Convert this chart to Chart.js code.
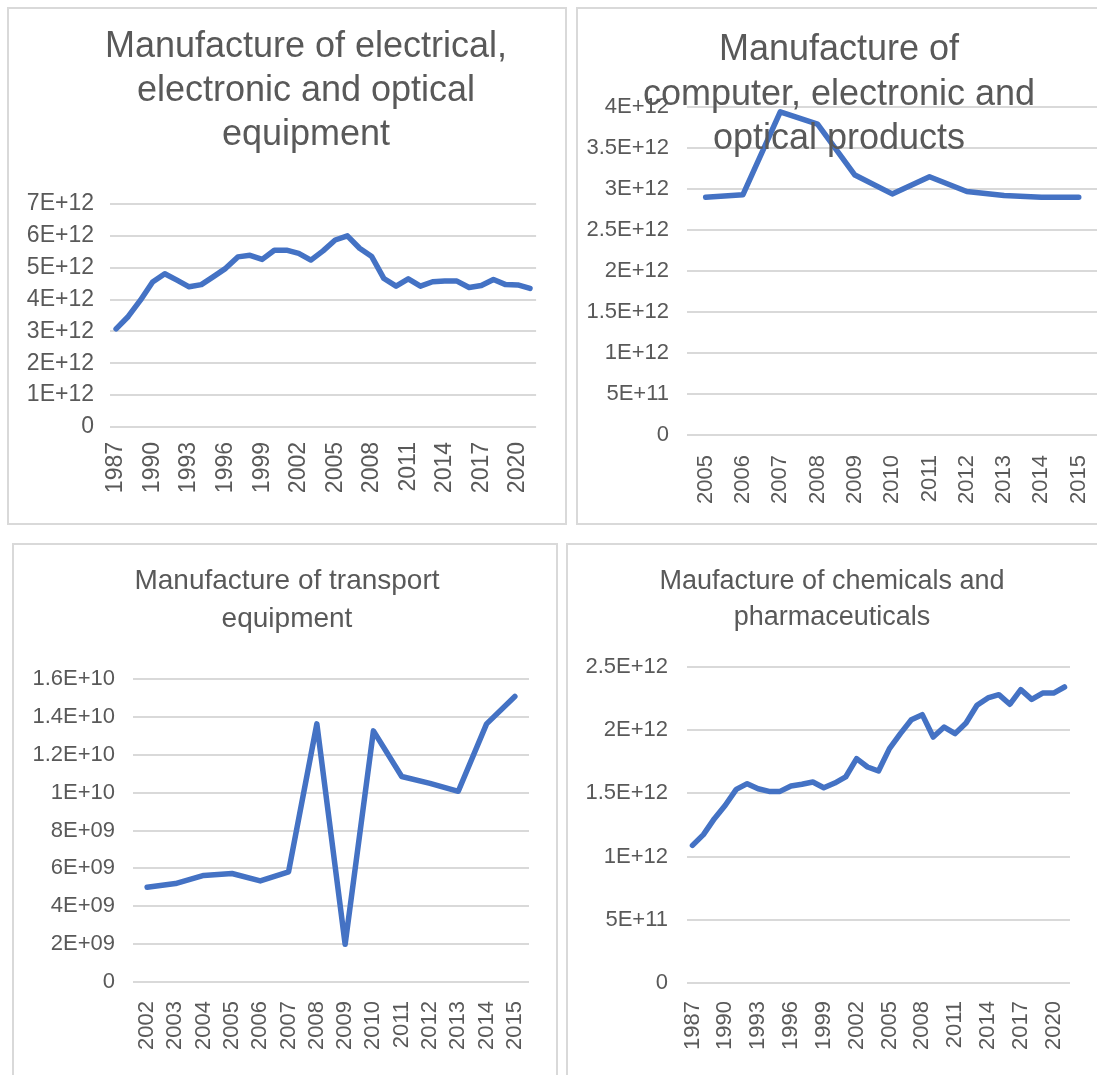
<!DOCTYPE html>
<html>
<head>
<meta charset="utf-8">
<script src="https://cdn.jsdelivr.net/npm/chart.js@4.4.1/dist/chart.umd.min.js"></script>
<style>
  body { margin: 0; background: #fff; overflow: hidden; width: 1097px; height: 1075px; position: relative; }
  .panel { position: absolute; border: 2px solid #d9d9d9; background: #fff; }
  .panel canvas { display: block; }
</style>
</head>
<body>
<div class="panel" style="left:7px;top:7px"><canvas id="c1" width="556" height="514"></canvas></div>
<div class="panel" style="left:576px;top:7px"><canvas id="c2" width="540" height="514"></canvas></div>
<div class="panel" style="left:12px;top:543px"><canvas id="c3" width="542" height="540"></canvas></div>
<div class="panel" style="left:566px;top:543px"><canvas id="c4" width="540" height="540"></canvas></div>
<script>
// categories
const yearsLong = ["1987","1988","1989","1990","1991","1992","1993","1994","1995","1996","1997","1998",
  "1999","2000","2001","2002","2003","2004","2005","2006","2007","2008","2009","2010","2011","2012",
  "2013","2014","2015","2016","2017","2018","2019","2020","2021"];
const yearsComputer = ["2005","2006","2007","2008","2009","2010","2011","2012","2013","2014","2015"];
const yearsTransport = ["2002","2003","2004","2005","2006","2007","2008","2009","2010","2011","2012","2013","2014","2015"];

// series values
const electricalValues = [3.08e12,3.47e12,3.98e12,4.55e12,4.81e12,4.61e12,4.40e12,4.47e12,4.72e12,4.98e12,
  5.34e12,5.39e12,5.26e12,5.55e12,5.55e12,5.45e12,5.24e12,5.53e12,5.87e12,6.00e12,5.61e12,5.35e12,
  4.66e12,4.42e12,4.65e12,4.42e12,4.56e12,4.58e12,4.58e12,4.38e12,4.44e12,4.63e12,4.47e12,4.46e12,4.35e12];
const computerValues = [2.90e12,2.93e12,3.94e12,3.79e12,3.17e12,2.94e12,3.15e12,2.97e12,2.92e12,2.90e12,2.90e12];
const transportValues = [5.00e9,5.20e9,5.63e9,5.73e9,5.34e9,5.82e9,13.63e9,1.99e9,13.26e9,10.85e9,10.49e9,10.07e9,13.63e9,15.08e9];
const chemicalValues = [1.089e12,1.174e12,1.300e12,1.406e12,1.532e12,1.577e12,1.537e12,1.516e12,1.516e12,1.558e12,
  1.572e12,1.590e12,1.545e12,1.582e12,1.630e12,1.775e12,1.709e12,1.677e12,1.854e12,1.973e12,2.083e12,2.123e12,
  1.946e12,2.025e12,1.973e12,2.057e12,2.197e12,2.255e12,2.281e12,2.205e12,2.321e12,2.244e12,2.294e12,2.294e12,2.342e12];

// titles
const titleElectrical = ["Manufacture of electrical,", "electronic and optical", "equipment"];
const titleComputer = ["Manufacture of", "computer, electronic and", "optical products"];
const titleTransport = ["Manufacture of transport", "equipment"];
const titleChemical = ["Maufacture of chemicals and", "pharmaceuticals"];

const FONT = '"Liberation Sans", Arial, sans-serif';
const GREY = "#595959";

// excel style 7E+12 / 5E+11 / 8E+09
function sci(v) {
  if (v === 0) return "0";
  const e = Math.floor(Math.log10(Math.abs(v)) + 1e-9);
  const m = +(v / Math.pow(10, e)).toPrecision(3);
  return m + "E+" + String(e).padStart(2, "0");
}

// title drawn on top (the computer chart has it overlapping the plot)
const panelTitle = {
  id: "panelTitle",
  afterDraw(chart, args, opts) {
    if (!opts.lines) return;
    const ctx = chart.ctx;
    ctx.save();
    ctx.fillStyle = GREY;
    ctx.font = opts.size + "px " + FONT;
    ctx.textAlign = "center";
    ctx.textBaseline = "alphabetic";
    opts.lines.forEach((t, i) => ctx.fillText(t, opts.x, opts.baselines[i]));
    ctx.restore();
  }
};

function makeChart(id, labels, values, o) {
  return new Chart(document.getElementById(id), {
    type: "line",
    data: {
      labels: labels,
      datasets: [{
        data: values,
        borderColor: "#4472C4",
        borderWidth: 5.5,
        pointRadius: 0,
        tension: 0,
        borderCapStyle: "round",
        borderJoinStyle: "round",
      }],
    },
    options: {
      responsive: false,
      animation: false,
      layout: { padding: { left: 0, top: o.top, right: o.right, bottom: 0 } },
      plugins: {
        legend: { display: false },
        tooltip: { enabled: false },
        title: { display: false },
        panelTitle: o.title,
      },
      scales: {
        x: {
          offset: true,
          grid: { display: false },
          border: { display: false },
          ticks: {
            autoSkip: false,
            minRotation: 90,
            maxRotation: 90,
            padding: o.xPad,
            color: GREY,
            font: { family: FONT, size: o.tick },
            callback: function (v, i) {
              return i % o.every === 0 ? this.getLabelForValue(v) : "";
            },
          },
          afterFit: (s) => { s.height = o.xHeight; },
        },
        y: {
          min: 0,
          max: o.max,
          grid: { color: "#d9d9d9", lineWidth: 2, drawTicks: false },
          border: { display: false },
          ticks: {
            stepSize: o.step,
            padding: o.yPad,
            color: GREY,
            font: { family: FONT, size: o.tick },
            callback: (v) => sci(v),
          },
          afterFit: (s) => { s.width = o.left; },
        },
      },
    },
    plugins: [panelTitle],
  });
}

makeChart("c1", yearsLong, electricalValues, {
  max: 7e12, step: 1e12, every: 3, tick: 23,
  left: 101, right: 28, top: 195, xHeight: 96, xPad: 7, yPad: 16,
  title: { lines: titleElectrical, size: 36, x: 297, baselines: [48, 92, 136] },
});

makeChart("c2", yearsComputer, computerValues, {
  max: 4e12, step: 5e11, every: 1, tick: 22,
  left: 109, right: 19, top: 98, xHeight: 88, xPad: 12, yPad: 18,
  title: { lines: titleComputer, size: 36, x: 261, baselines: [51, 96, 140] },
});

makeChart("c3", yearsTransport, transportValues, {
  max: 1.6e10, step: 2e9, every: 1, tick: 22,
  left: 119, right: 27, top: 134, xHeight: 103, xPad: 11, yPad: 18,
  title: { lines: titleTransport, size: 28, x: 273, baselines: [44, 82] },
});

makeChart("c4", yearsLong, chemicalValues, {
  max: 2.5e12, step: 5e11, every: 3, tick: 22,
  left: 119, right: 38, top: 122, xHeight: 102, xPad: 10, yPad: 19,
  title: { lines: titleChemical, size: 27, x: 264, baselines: [44, 80] },
});
</script>
</body>
</html>
